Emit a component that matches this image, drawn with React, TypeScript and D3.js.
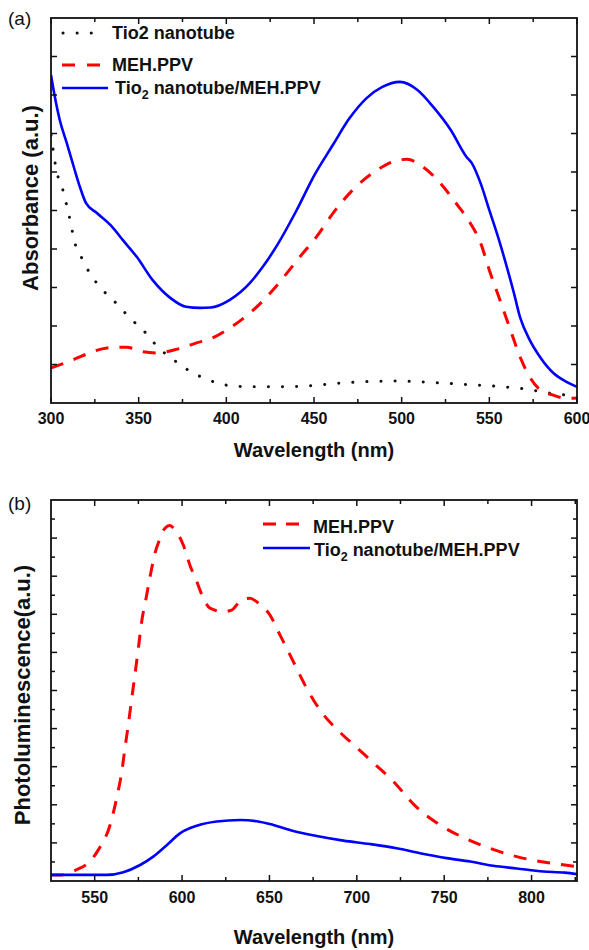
import React from "react";
import * as d3 from "d3";

// ---------- Panel (a): absorbance ----------
const absTiO2Wl = [300, 301.5, 303, 306, 308, 310, 312, 314, 317.5, 322, 329, 337, 345, 354, 361, 370, 378, 387, 395, 404, 420, 440, 466, 483, 497, 510, 522, 541, 558, 574, 582, 590, 597, 600];
const absTiO2 = [6.96, 6.49, 6.05, 5.66, 5.3, 4.94, 4.49, 4.1, 3.77, 3.38, 2.96, 2.6, 2.21, 1.82, 1.45, 1.12, 0.86, 0.65, 0.52, 0.44, 0.42, 0.43, 0.52, 0.56, 0.57, 0.55, 0.52, 0.47, 0.42, 0.34, 0.27, 0.23, 0.19, 0.18];

const absMehWl = [300, 312.5, 322, 332, 343, 352.5, 360, 372, 383, 392, 402, 413.5, 426.7, 435, 442, 451.5, 461, 472, 486, 495, 503, 512, 522, 531, 539, 545, 550, 556, 562, 567.5, 573, 579, 586, 594, 600];
const absMeh = [0.91, 1.12, 1.3, 1.43, 1.45, 1.33, 1.3, 1.4, 1.56, 1.69, 1.95, 2.34, 2.94, 3.4, 3.8, 4.32, 4.94, 5.53, 6.05, 6.27, 6.33, 6.14, 5.71, 5.19, 4.68, 4.16, 3.45, 2.68, 1.9, 1.2, 0.68, 0.34, 0.21, 0.12, 0.13];

const absCompWl = [300, 302, 305, 309, 313, 316.5, 320, 326, 334, 341, 349, 358, 368, 377, 385, 391, 402, 413.5, 421, 429, 440, 450, 461, 470, 480, 489, 499, 509, 518, 528, 537, 540, 545, 550, 556, 560, 564, 567.5, 573, 579, 586.5, 594, 600];
const absComp = [8.52, 8.0, 7.35, 6.75, 6.13, 5.61, 5.19, 4.94, 4.62, 4.23, 3.79, 3.19, 2.73, 2.5, 2.47, 2.48, 2.68, 3.12, 3.55, 4.1, 5.0, 5.9, 6.72, 7.38, 7.92, 8.21, 8.34, 8.13, 7.69, 7.09, 6.39, 6.23, 5.71, 5.01, 4.16, 3.53, 2.86, 2.23, 1.64, 1.19, 0.78, 0.55, 0.42];

const absXTicks = [300, 350, 400, 450, 500, 550, 600];
const absXMinor = [325, 375, 425, 475, 525, 575];

// ---------- Panel (b): photoluminescence ----------
const plMehWl = [525, 531, 537, 541.6, 543.5, 552, 558.8, 562.6, 565.5, 567.3, 569.2, 571.2, 573, 575, 576.9, 579.4, 581.7, 584.5, 587.4, 590.2, 593, 596, 600.7, 604.5, 608.4, 612.2, 616, 623.6, 628.4, 634.1, 638.9, 642.7, 650.3, 656, 659.9, 664.6, 672, 680, 690, 700, 710, 721, 733, 747.6, 762, 776, 791.5, 805, 819, 826];
const plMeh = [0.16, 0.16, 0.24, 0.34, 0.38, 0.81, 1.47, 2.18, 2.87, 3.48, 4.09, 4.79, 5.41, 6.11, 6.81, 7.42, 7.99, 8.6, 8.99, 9.26, 9.33, 9.21, 8.82, 8.29, 7.86, 7.42, 7.16, 7.07, 7.11, 7.38, 7.42, 7.33, 6.98, 6.46, 6.11, 5.67, 5.0, 4.42, 3.92, 3.5, 3.08, 2.61, 1.99, 1.47, 1.12, 0.86, 0.64, 0.51, 0.42, 0.38];

const plCompWl = [525, 557, 566.4, 576, 583.5, 591.2, 598.8, 608.4, 619.8, 633.2, 642.7, 652.2, 663.7, 677, 692.3, 707.5, 722.8, 736.2, 751.4, 764.8, 778.1, 791.5, 806.7, 819.1, 826];
const plComp = [0.16, 0.16, 0.23, 0.42, 0.64, 0.94, 1.25, 1.45, 1.56, 1.6, 1.57, 1.47, 1.31, 1.18, 1.06, 0.97, 0.86, 0.73, 0.6, 0.51, 0.4, 0.33, 0.25, 0.22, 0.18];

const plXTicks = [550, 600, 650, 700, 750, 800];
const plXMinor = [575, 625, 675, 725, 775, 825];

const FONT = "'Liberation Sans', Arial, Helvetica, sans-serif";
const RED = "#ff0000";
const BLUE = "#0000ff";

const L = 51, R = 577;

type Pt = [number, number];
const zip = (xs: number[], ys: number[]): Pt[] => xs.map((x, i) => [x, ys[i]]);

function Frame({ x, y, top, bottom, xMajor, xMinor, yMajor, yMinor }: any) {
  const tMaj = 6, tMin = 4;
  const lines: any[] = [];
  xMajor.forEach((v: number, i: number) => {
    const px = x(v);
    lines.push(<line key={"xb" + i} x1={px} x2={px} y1={bottom} y2={bottom - tMaj} />);
    lines.push(<line key={"xt" + i} x1={px} x2={px} y1={top} y2={top + tMaj} />);
  });
  xMinor.forEach((v: number, i: number) => {
    const px = x(v);
    lines.push(<line key={"xbm" + i} x1={px} x2={px} y1={bottom} y2={bottom - tMin} />);
    lines.push(<line key={"xtm" + i} x1={px} x2={px} y1={top} y2={top + tMin} />);
  });
  yMajor.forEach((v: number, i: number) => {
    const py = y(v);
    lines.push(<line key={"yl" + i} x1={L} x2={L + tMaj} y1={py} y2={py} />);
    lines.push(<line key={"yr" + i} x1={R} x2={R - tMaj} y1={py} y2={py} />);
  });
  yMinor.forEach((v: number, i: number) => {
    const py = y(v);
    lines.push(<line key={"ylm" + i} x1={L} x2={L + tMin} y1={py} y2={py} />);
    lines.push(<line key={"yrm" + i} x1={R} x2={R - tMin} y1={py} y2={py} />);
  });
  return (
    <g stroke="#111" strokeWidth={1.5} fill="none">
      {lines}
      <rect x={L} y={top} width={R - L} height={bottom - top} strokeWidth={1.8} />
    </g>
  );
}

function TioLabel({ x, y }: { x: number; y: number }) {
  return (
    <text x={x} y={y} fontFamily={FONT} fontWeight="bold" fontSize={18} fill="#111">
      Tio<tspan fontSize={12.5} dy={5}>2</tspan>
      <tspan dy={-5}> nanotube/MEH.PPV</tspan>
    </text>
  );
}

export default function App() {
  // panel a
  const aTop = 18, aBot = 403;
  const xa = d3.scaleLinear().domain([300, 600]).range([L, R]);
  const ya = d3.scaleLinear().domain([0, 10]).range([aBot, aTop]);
  const lineA = d3.line<Pt>().x((d) => xa(d[0])).y((d) => ya(d[1])).curve(d3.curveMonotoneX);

  // panel b
  const bTop = 500, bBot = 881;
  const xb = d3.scaleLinear().domain([525, 826]).range([L, R]);
  const yb = d3.scaleLinear().domain([0, 10]).range([bBot, bTop]);
  const lineB = d3.line<Pt>().x((d) => xb(d[0])).y((d) => yb(d[1])).curve(d3.curveMonotoneX);

  const yMajA = d3.range(1, 10);
  const yMajB = d3.range(1, 10);
  const yMinB = d3.range(0.5, 10, 1);

  return (
    <svg
      width={589}
      height={950}
      style={{ position: "absolute", left: 0, top: 0, background: "#fff" }}
    >
      <defs>
        <clipPath id="clipA">
          <rect x={L} y={aTop} width={R - L} height={aBot - aTop} />
        </clipPath>
        <clipPath id="clipB">
          <rect x={L} y={bTop} width={R - L} height={bBot - bTop} />
        </clipPath>
      </defs>

      {/* ---------------- Panel (a) ---------------- */}
      <text x={8} y={25} fontFamily={FONT} fontSize={19} fill="#111">(a)</text>
      <g clipPath="url(#clipA)" fill="none">
        <path d={lineA(zip(absTiO2Wl, absTiO2)) || ""} stroke="#111" strokeWidth={3} strokeDasharray="0.1 14" strokeLinecap="round" />
        <path d={lineA(zip(absMehWl, absMeh)) || ""} stroke={RED} strokeWidth={3} strokeDasharray="13 11" />
        <path d={lineA(zip(absCompWl, absComp)) || ""} stroke={BLUE} strokeWidth={2.6} />
      </g>
      <Frame x={xa} y={ya} top={aTop} bottom={aBot} xMajor={absXTicks} xMinor={absXMinor} yMajor={yMajA} yMinor={[]} />
      {absXTicks.map((t) => (
        <text key={t} x={xa(t)} y={424} textAnchor="middle" fontFamily={FONT} fontWeight="bold" fontSize={16} fill="#111">{t}</text>
      ))}
      <text x={(L + R) / 2} y={457} textAnchor="middle" fontFamily={FONT} fontWeight="bold" fontSize={20} fill="#111">Wavelength (nm)</text>
      <text transform={`translate(38, 198) rotate(-90)`} textAnchor="middle" fontFamily={FONT} fontWeight="bold" fontSize={22} fill="#111">Absorbance (a.u.)</text>

      {/* legend (a) */}
      <line x1={63} x2={95} y1={33} y2={33} stroke="#111" strokeWidth={3} strokeDasharray="0.1 14" strokeLinecap="round" />
      <text x={112} y={39} fontFamily={FONT} fontWeight="bold" fontSize={18} fill="#111">Tio2 nanotube</text>
      <line x1={62} x2={100} y1={65} y2={65} stroke={RED} strokeWidth={3} strokeDasharray="13 12" />
      <text x={112} y={71} fontFamily={FONT} fontWeight="bold" fontSize={18} fill="#111">MEH.PPV</text>
      <line x1={62} x2={108} y1={88} y2={88} stroke={BLUE} strokeWidth={2.6} />
      <TioLabel x={115} y={94} />

      {/* ---------------- Panel (b) ---------------- */}
      <text x={8} y={510} fontFamily={FONT} fontSize={19} fill="#111">(b)</text>
      <g clipPath="url(#clipB)" fill="none">
        <path d={lineB(zip(plMehWl, plMeh)) || ""} stroke={RED} strokeWidth={3} strokeDasharray="13 11" />
        <path d={lineB(zip(plCompWl, plComp)) || ""} stroke={BLUE} strokeWidth={2.6} />
      </g>
      <Frame x={xb} y={yb} top={bTop} bottom={bBot} xMajor={plXTicks} xMinor={plXMinor} yMajor={yMajB} yMinor={yMinB} />
      {plXTicks.map((t) => (
        <text key={t} x={xb(t)} y={903} textAnchor="middle" fontFamily={FONT} fontWeight="bold" fontSize={16} fill="#111">{t}</text>
      ))}
      <text x={(L + R) / 2} y={944} textAnchor="middle" fontFamily={FONT} fontWeight="bold" fontSize={20} fill="#111">Wavelength (nm)</text>
      <text transform={`translate(30, 695) rotate(-90)`} textAnchor="middle" fontFamily={FONT} fontWeight="bold" fontSize={22} fill="#111">Photoluminescence(a.u.)</text>

      {/* legend (b) */}
      <line x1={263} x2={300} y1={524} y2={524} stroke={RED} strokeWidth={3} strokeDasharray="13 10" />
      <text x={313} y={533} fontFamily={FONT} fontWeight="bold" fontSize={18} fill="#111">MEH.PPV</text>
      <line x1={263} x2={310} y1={548} y2={548} stroke={BLUE} strokeWidth={2.6} />
      <TioLabel x={314} y={556} />
    </svg>
  );
}
